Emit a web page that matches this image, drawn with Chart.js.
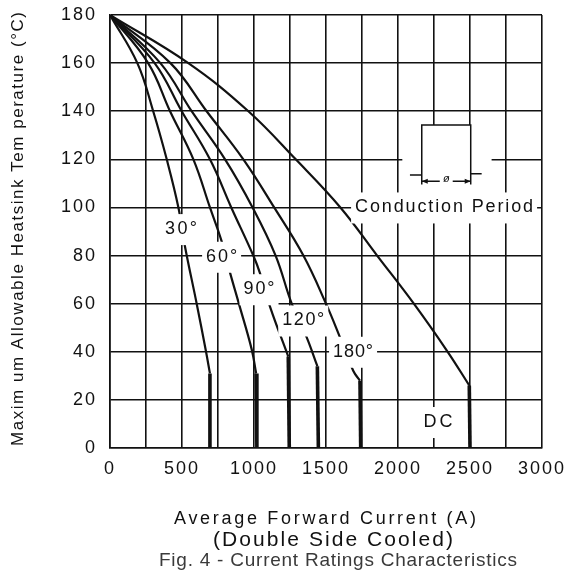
<!DOCTYPE html>
<html lang="en">
<head>
    <meta charset="UTF-8">
    <title>Current Ratings Characteristics</title>
    <script src="https://cdn.jsdelivr.net/npm/chart.js"></script>
    <style>
        html, body { margin: 0; padding: 0; background: #fff; }
    </style>
</head>
<body>
    <canvas id="ratingChart" width="575" height="576"></canvas>
    <script>
        // grid every 250 A, labels every 500 A
        const xGridValues = [0, 250, 500, 750, 1000, 1250, 1500, 1750, 2000, 2250, 2500, 2750, 3000];
        const xTickLabels = [0, 500, 1000, 1500, 2000, 2500, 3000];
        const yTickValues = [0, 20, 40, 60, 80, 100, 120, 140, 160, 180];

        // current (A) / max heatsink temperature (°C)
        const current30 = [0, 190, 300, 394, 475, 520, 602, 667, 694];
        const temp30 = [180, 160, 140, 120, 100, 84, 60, 40, 31];
        const current60 = [0, 265, 417, 579, 694, 775, 833, 895, 984, 1015];
        const temp60 = [180, 160, 140, 120, 100, 86, 73, 60, 41, 31];
        const current90 = [0, 310, 498, 694, 842, 995, 1042, 1111, 1238];
        const temp90 = [180, 160, 140, 120, 100, 80, 72.6, 58.8, 38];
        const current120 = [0, 350, 567, 799, 990, 1150, 1262, 1366, 1440];
        const temp120 = [180, 160, 140, 120, 100, 80, 60, 46, 34];
        const current180 = [0, 420, 671, 926, 1140, 1343, 1500, 1597, 1690, 1736];
        const temp180 = [180, 160, 140, 120, 100, 80, 60, 46, 32, 28];
        const currentDC = [0, 544, 961, 1290, 1600, 1855, 2110, 2345, 2495];
        const tempDC = [180, 160, 140, 120, 100, 80, 60, 40, 26];

        // each curve ends in a vertical drop to 0 °C at this current
        const dropCurrent = [694, 1020, 1245, 1447, 1741, 2500];
        const curveNames = ['30°', '60°', '90°', '120°', '180°', 'DC'];

        const series = [
            [current30, temp30], [current60, temp60], [current90, temp90],
            [current120, temp120], [current180, temp180], [currentDC, tempDC]
        ];

        const FONT = "'Liberation Sans', Arial, sans-serif";
        const INK = '#111';

        const datasets = [];
        series.forEach(([xs, ys], i) => {
            const pts = xs.map((x, k) => ({ x: x, y: ys[k] }));
            datasets.push({
                label: curveNames[i],
                data: pts,
                borderColor: INK,
                borderWidth: 2.2,
                pointRadius: 0,
                tension: 0.4
            });
            const last = pts[pts.length - 1];
            datasets.push({
                label: curveNames[i] + ' limit',
                data: [last, { x: dropCurrent[i], y: 0 }],
                borderColor: INK,
                borderWidth: 3.6,
                pointRadius: 0,
                tension: 0
            });
        });

        // text with letter spacing stretched to a given width
        function spacedText(ctx, text, cx, cy, font, width, color) {
            ctx.save();
            ctx.font = font;
            ctx.letterSpacing = '0px';
            const plain = ctx.measureText(text).width;
            const gap = width ? (width - plain) / (text.length - 1) : 0;
            ctx.letterSpacing = gap + 'px';
            ctx.fillStyle = color || INK;
            ctx.textAlign = 'left';
            ctx.textBaseline = 'middle';
            ctx.fillText(text, cx - (plain + gap * (text.length - 1)) / 2, cy);
            ctx.restore();
        }

        // labels sit on white boxes that cut the curves and grid
        const curveTags = [
            { text: '30°', x: 493, y: 91, w: 32 },
            { text: '60°', x: 775, y: 79.5, w: 31 },
            { text: '90°', x: 1035, y: 66, w: 31 },
            { text: '120°', x: 1342, y: 53, w: 42 },
            { text: '180°', x: 1688, y: 40, w: 40 },
            { text: 'DC', x: 2278, y: 10.8, w: 29 },
            { text: 'Conduction Period', x: 2320, y: 100, w: 178 }
        ];

        const annotate = {
            id: 'annotate',
            beforeDraw(chart) {
                chart.ctx.letterSpacing = '2px';
            },
            afterDatasetsDraw(chart) {
                const ctx = chart.ctx;
                const xs = chart.scales.x, ys = chart.scales.y;
                const px = v => xs.getPixelForValue(v);
                const py = v => ys.getPixelForValue(v);

                // conduction period pulse sketch
                ctx.save();
                ctx.fillStyle = '#fff';
                ctx.fillRect(px(2030), py(134.3), px(2650) - px(2030), py(104) - py(134.3));
                ctx.strokeStyle = INK;
                ctx.lineWidth = 1.5;
                ctx.beginPath();
                ctx.moveTo(px(2083), py(113.5));
                ctx.lineTo(px(2165), py(113.5));
                ctx.moveTo(px(2165), py(109.5));
                ctx.lineTo(px(2165), py(134.3));
                ctx.lineTo(px(2505), py(134.3));
                ctx.lineTo(px(2505), py(109.5));
                ctx.moveTo(px(2505), py(114));
                ctx.lineTo(px(2581), py(114));
                // dimension line with arrows
                const dy = py(110.9);
                ctx.moveTo(px(2165), dy);
                ctx.lineTo(px(2290), dy);
                ctx.moveTo(px(2380), dy);
                ctx.lineTo(px(2505), dy);
                ctx.stroke();
                ctx.fillStyle = INK;
                ctx.beginPath();
                ctx.moveTo(px(2165), dy);
                ctx.lineTo(px(2165) + 6, dy - 2.5);
                ctx.lineTo(px(2165) + 6, dy + 2.5);
                ctx.closePath();
                ctx.moveTo(px(2505), dy);
                ctx.lineTo(px(2505) - 6, dy - 2.5);
                ctx.lineTo(px(2505) - 6, dy + 2.5);
                ctx.closePath();
                ctx.fill();
                ctx.font = 'italic 11px ' + FONT;
                ctx.letterSpacing = '0px';
                ctx.textAlign = 'center';
                ctx.textBaseline = 'middle';
                ctx.fillText('ø', (px(2165) + px(2505)) / 2, dy - 2);
                ctx.restore();

                curveTags.forEach(t => {
                    const cx = px(t.x), cy = py(t.y);
                    ctx.save();
                    ctx.fillStyle = '#fff';
                    ctx.fillRect(cx - t.w / 2 - 4, cy - 15, t.w + 8, 31);
                    ctx.restore();
                    spacedText(ctx, t.text, cx, cy, '18px ' + FONT, t.w);
                });
            },
            afterDraw(chart) {
                const ctx = chart.ctx;
                spacedText(ctx, 'Average Forward Current (A)', 325, 519, '18px ' + FONT, 302);
                spacedText(ctx, '(Double Side Cooled)', 333, 540, '21px ' + FONT, 240);
                spacedText(ctx, 'Fig. 4 - Current Ratings Characteristics', 338, 561, '19px ' + FONT, 358, '#3a3a3a');
                ctx.save();
                ctx.translate(18, 229);
                ctx.rotate(-Math.PI / 2);
                spacedText(ctx, 'Maxim um Allowable Heatsink Tem perature (°C)', 0, 0, '17px ' + FONT, 434);
                ctx.restore();
            }
        };

        new Chart(document.getElementById('ratingChart').getContext('2d'), {
            type: 'line',
            data: { datasets: datasets },
            options: {
                responsive: false,
                animation: false,
                devicePixelRatio: 1,
                layout: { padding: { top: 15, right: 33, left: 0, bottom: 0 } },
                scales: {
                    x: {
                        type: 'linear',
                        min: 0,
                        max: 3000,
                        afterBuildTicks: scale => { scale.ticks = xGridValues.map(v => ({ value: v })); },
                        afterFit: scale => { scale.height = 128; scale.paddingRight = 0; },
                        grid: { color: INK, lineWidth: 1.6, drawTicks: false },
                        border: { color: INK, width: 1.6 },
                        ticks: {
                            padding: 10,
                            autoSkip: false,
                            maxRotation: 0,
                            color: INK,
                            font: { family: FONT, size: 18 },
                            callback: v => xTickLabels.includes(v) ? String(v) : ''
                        }
                    },
                    y: {
                        min: 0,
                        max: 180,
                        afterBuildTicks: scale => { scale.ticks = yTickValues.map(v => ({ value: v })); },
                        afterFit: scale => { scale.width = 110; scale.paddingTop = 0; scale.paddingBottom = 0; },
                        grid: { color: INK, lineWidth: 1.6, drawTicks: false },
                        border: { color: INK, width: 1.6 },
                        ticks: {
                            padding: 13,
                            color: INK,
                            font: { family: FONT, size: 18 }
                        }
                    }
                },
                plugins: {
                    legend: { display: false },
                    tooltip: { enabled: false }
                }
            },
            plugins: [annotate]
        });
    </script>
</body>
</html>
